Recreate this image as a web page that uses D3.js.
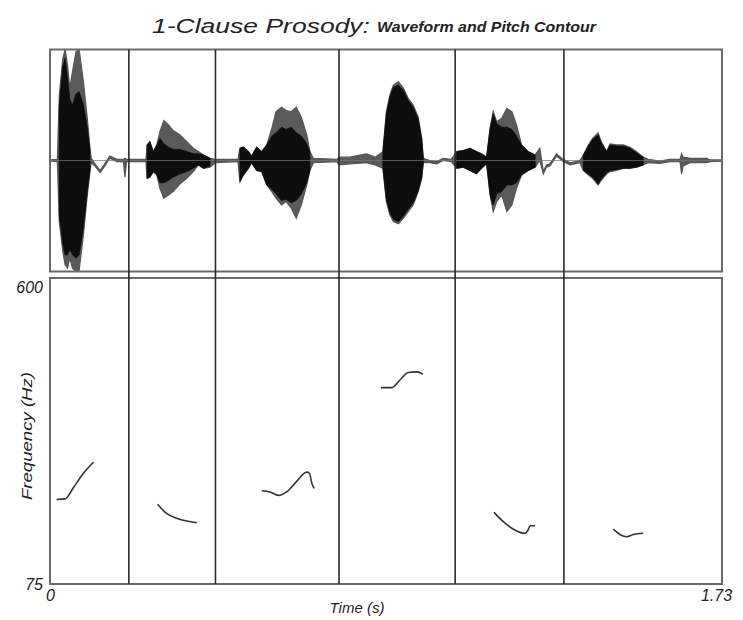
<!DOCTYPE html>
<html>
<head>
<meta charset="utf-8">
<script src="https://cdn.jsdelivr.net/npm/d3@7"></script>
<style>
  body { margin: 0; background: #fff; }
  text { font-family: "Liberation Sans", Arial, sans-serif; fill: #222; }
</style>
</head>
<body>
<div id="chart"></div>
<script>
// Data
// segment boundaries (s)
var boundaries = [0.203, 0.426, 0.744, 1.043, 1.323];

// waveform envelope (outer, gray) : time (s), upper, lower amplitude
var waveTime = [0, 0.019, 0.024, 0.033, 0.039, 0.045, 0.051, 0.058, 0.067, 0.075, 0.086, 0.096, 0.103, 0.106,
  0.116, 0.129, 0.139, 0.154, 0.172, 0.189, 0.193, 0.197, 0.247,
  0.250, 0.257, 0.266, 0.275, 0.283, 0.293, 0.305, 0.317, 0.335, 0.352, 0.369, 0.382, 0.395, 0.412, 0.425, 0.484,
  0.489, 0.498, 0.511, 0.519, 0.532, 0.545, 0.558, 0.571, 0.582, 0.596, 0.608, 0.621, 0.634, 0.647, 0.661, 0.669, 0.678, 0.739,
  0.744, 0.772, 0.815, 0.837, 0.857,
  0.866, 0.875, 0.884, 0.897, 0.910, 0.922, 0.935, 0.948, 0.957, 0.961,
  0.978, 0.996, 1.012, 1.033,
  1.047, 1.064, 1.081, 1.098, 1.111, 1.124, 1.133, 1.141, 1.150, 1.163, 1.176, 1.189, 1.201, 1.214, 1.231, 1.249,
  1.261, 1.270, 1.278, 1.287, 1.304, 1.321, 1.339, 1.364,
  1.373, 1.386, 1.397, 1.411, 1.419, 1.433, 1.442, 1.459, 1.476, 1.493, 1.510, 1.527, 1.540,
  1.570, 1.596, 1.622, 1.626, 1.630, 1.648, 1.691, 1.699, 1.727];
var waveHigh = [0.005, 0.01, 0.59, 0.92, 1.0, 0.86, 0.65, 0.80, 0.98, 1.0, 0.71, 0.38, 0.11, 0.02,
  -0.03, -0.09, -0.04, 0.04, 0.01, 0.01, 0.02, 0.01, 0.01,
  0.14, 0.17, 0.08, 0.14, 0.26, 0.36, 0.32, 0.27, 0.23, 0.17, 0.11, 0.08, 0.05, 0.02, 0.01, 0.01,
  0.11, 0.12, 0.08, 0.04, 0.12, 0.08, 0.14, 0.29, 0.44, 0.48, 0.45, 0.44, 0.48, 0.39, 0.23, 0.08, 0.02, 0.01,
  0.03, 0.03, 0.06, 0.03, 0.08,
  0.44, 0.59, 0.68, 0.71, 0.65, 0.56, 0.50, 0.39, 0.20, 0.02,
  0.0, -0.01, 0.02, 0.01,
  0.08, 0.09, 0.11, 0.08, 0.06, 0.03, 0.29, 0.44, 0.35, 0.38, 0.47, 0.44, 0.32, 0.14, 0.08, 0.05,
  0.11, -0.10, -0.04, -0.03, 0.06, 0.01, -0.02, 0.0,
  0.05, 0.14, 0.20, 0.25, 0.17, 0.08, 0.15, 0.14, 0.14, 0.12, 0.08, 0.03, 0.01,
  -0.005, 0.01, 0.01, 0.06, 0.03, 0.02, 0.02, 0.005, 0.005];
var waveLow = [-0.005, -0.01, -0.55, -0.82, -0.94, -0.97, -0.88, -0.97, -1.0, -0.99, -0.67, -0.31, -0.10, -0.02,
  -0.05, -0.11, -0.06, 0.02, -0.01, -0.01, -0.15, -0.01, -0.01,
  -0.16, -0.15, -0.10, -0.13, -0.25, -0.34, -0.31, -0.28, -0.21, -0.16, -0.10, -0.04, -0.07, -0.06, -0.02, -0.01,
  -0.19, -0.13, -0.07, -0.02, -0.09, -0.10, -0.22, -0.28, -0.34, -0.40, -0.37, -0.43, -0.52, -0.40, -0.22, -0.09, -0.02, -0.01,
  -0.04, -0.03, -0.02, -0.04, -0.07,
  -0.37, -0.49, -0.55, -0.57, -0.52, -0.46, -0.40, -0.28, -0.16, -0.02,
  -0.02, -0.03, 0.0, -0.01,
  -0.07, -0.06, -0.09, -0.12, -0.07, -0.03, -0.31, -0.46, -0.37, -0.31, -0.46, -0.40, -0.25, -0.13, -0.09, -0.06,
  0.0, -0.12, -0.06, -0.05, 0.04, -0.01, -0.04, -0.02,
  -0.09, -0.13, -0.16, -0.22, -0.18, -0.12, -0.10, -0.09, -0.07, -0.07, -0.06, -0.04, -0.02,
  -0.025, -0.01, -0.01, -0.12, -0.05, -0.02, -0.02, -0.01, -0.005];

// dark core of each burst : time (s), upper, lower amplitude
var coreTime = [
  [0.024, 0.033, 0.039, 0.045, 0.051, 0.058, 0.067, 0.075, 0.086, 0.096, 0.103],
  [0.250, 0.257, 0.266, 0.275, 0.283, 0.293, 0.305, 0.317, 0.335, 0.352, 0.369, 0.382, 0.395, 0.412],
  [0.489, 0.498, 0.511, 0.519, 0.532, 0.545, 0.558, 0.571, 0.582, 0.596, 0.608, 0.621, 0.634, 0.647, 0.661, 0.669],
  [0.857, 0.866, 0.875, 0.884, 0.897, 0.910, 0.922, 0.935, 0.948, 0.957, 0.961],
  [1.047, 1.064, 1.081, 1.098, 1.111, 1.124, 1.133, 1.141, 1.150, 1.163, 1.176, 1.189, 1.201, 1.214, 1.231, 1.249],
  [1.373, 1.386, 1.397, 1.411, 1.419, 1.433, 1.442, 1.459, 1.476, 1.493, 1.510, 1.527]
];
var coreHigh = [
  [0.5, 0.85, 0.92, 0.75, 0.55, 0.5, 0.6, 0.62, 0.5, 0.3, 0.08],
  [0.14, 0.17, 0.08, 0.14, 0.2, 0.15, 0.12, 0.1, 0.1, 0.08, 0.06, 0.06, 0.05, 0.02],
  [0.11, 0.12, 0.08, 0.04, 0.12, 0.08, 0.14, 0.22, 0.25, 0.3, 0.28, 0.3, 0.25, 0.22, 0.15, 0.08],
  [0.08, 0.42, 0.57, 0.66, 0.68, 0.63, 0.54, 0.48, 0.37, 0.19, 0.02],
  [0.08, 0.09, 0.11, 0.08, 0.06, 0.03, 0.29, 0.42, 0.33, 0.3, 0.3, 0.28, 0.22, 0.14, 0.08, 0.05],
  [0.05, 0.13, 0.19, 0.23, 0.16, 0.08, 0.14, 0.13, 0.13, 0.11, 0.07, 0.03]
];
var coreLow = [
  [-0.5, -0.75, -0.85, -0.85, -0.8, -0.85, -0.88, -0.85, -0.6, -0.28, -0.08],
  [-0.16, -0.15, -0.1, -0.13, -0.2, -0.2, -0.18, -0.15, -0.12, -0.1, -0.07, -0.04, -0.07, -0.05],
  [-0.19, -0.13, -0.07, -0.02, -0.09, -0.1, -0.22, -0.26, -0.3, -0.36, -0.35, -0.38, -0.36, -0.3, -0.2, -0.09],
  [-0.07, -0.35, -0.47, -0.53, -0.55, -0.5, -0.44, -0.38, -0.27, -0.15, -0.02],
  [-0.07, -0.06, -0.09, -0.12, -0.07, -0.03, -0.31, -0.4, -0.3, -0.28, -0.22, -0.22, -0.2, -0.13, -0.09, -0.06],
  [-0.09, -0.12, -0.15, -0.21, -0.17, -0.11, -0.09, -0.08, -0.07, -0.07, -0.06, -0.04]
];

// pitch contours, one per segment : time (s), frequency (Hz)
var pitchTime = [
  [0.017, 0.039, 0.060, 0.086, 0.112],
  [0.277, 0.300, 0.326, 0.352, 0.378],
  [0.545, 0.566, 0.588, 0.609, 0.635, 0.661, 0.668, 0.674, 0.680],
  [0.852, 0.880, 0.901, 0.922, 0.944, 0.960],
  [1.143, 1.167, 1.193, 1.223, 1.231, 1.236, 1.249],
  [1.450, 1.467, 1.485, 1.502, 1.527]
];
var pitchHz = [
  [220, 221, 240, 265, 284],
  [212, 196, 188, 183, 180],
  [235, 233, 227, 233, 251, 267, 265, 248, 239],
  [412, 412, 425, 438, 439, 435],
  [198, 182, 169, 162, 168, 175, 175],
  [169, 160, 156, 160, 162]
];

var timeTicks = [0, 1.73];
var freqTicks = [75, 600];

// Setup Chart Params
var svgWidth = 743, svgHeight = 620;
var left = 50, right = 722;
var waveTop = 49.5, waveBottom = 271.5;
var pitchTop = 278, pitchBottom = 584;

var svg = d3.select("#chart")
  .append("svg")
  .attr("width", svgWidth)
  .attr("height", svgHeight);

// scales
var xScale = d3.scaleLinear().domain([0, 1.73]).range([left, right]);
var yWave = d3.scaleLinear().domain([-1, 1]).range([waveBottom, waveTop]);
var yPitch = d3.scaleLinear().domain([75, 600]).range([pitchBottom, pitchTop]);

// Title
svg.append("text")
  .attr("x", 152).attr("y", 33)
  .attr("textLength", 218).attr("lengthAdjust", "spacingAndGlyphs")
  .style("font-size", "20px").style("font-style", "italic")
  .text("1-Clause Prosody:");
svg.append("text")
  .attr("x", 377).attr("y", 32)
  .attr("textLength", 219).attr("lengthAdjust", "spacingAndGlyphs")
  .style("font-size", "14px").style("font-style", "italic").style("font-weight", "bold")
  .text("Waveform and Pitch Contour");

// Waveform
var waveData = waveTime.map(function(t, i) {
  return { t: t, hi: waveHigh[i], lo: waveLow[i] };
});
var area = d3.area()
  .x(d => xScale(d.t))
  .y0(d => yWave(d.lo))
  .y1(d => yWave(d.hi));

svg.append("path")
  .datum(waveData)
  .attr("d", area)
  .attr("fill", "#5a5a5a")
  .attr("stroke", "#555")
  .attr("stroke-width", 1.2);

coreTime.forEach(function(ts, k) {
  var core = ts.map(function(t, i) { return { t: t, hi: coreHigh[k][i], lo: coreLow[k][i] }; });
  svg.append("path")
    .datum(core)
    .attr("d", area)
    .attr("fill", "#0d0d0d")
    .attr("stroke", "#0d0d0d")
    .attr("stroke-width", 0.8);
});

// zero line
svg.append("line")
  .attr("x1", left).attr("x2", right)
  .attr("y1", yWave(0)).attr("y2", yWave(0))
  .attr("stroke", "#777").attr("stroke-width", 1).attr("opacity", 0.7);

// Panel frames
svg.append("rect")
  .attr("x", left).attr("y", waveTop)
  .attr("width", right - left).attr("height", waveBottom - waveTop)
  .attr("fill", "none").attr("stroke", "#6a6a6a").attr("stroke-width", 2);
svg.append("rect")
  .attr("x", left).attr("y", pitchTop)
  .attr("width", right - left).attr("height", pitchBottom - pitchTop)
  .attr("fill", "none").attr("stroke", "#6a6a6a").attr("stroke-width", 2);

// segment boundaries
svg.append("g").selectAll("line")
  .data(boundaries)
  .enter()
  .append("line")
  .attr("x1", d => xScale(d)).attr("x2", d => xScale(d))
  .attr("y1", waveTop).attr("y2", pitchBottom)
  .attr("stroke", "#2a2a2a")
  .attr("stroke-width", 1.6);

// Pitch contours
var pitchLine = d3.line()
  .x(d => xScale(d[0]))
  .y(d => yPitch(d[1]))
  .curve(d3.curveMonotoneX);

svg.append("g").selectAll("path")
  .data(pitchTime.map((ts, k) => ts.map((t, i) => [t, pitchHz[k][i]])))
  .enter()
  .append("path")
  .attr("d", d => pitchLine(d))
  .attr("fill", "none")
  .attr("stroke", "#333")
  .attr("stroke-width", 1.6);

// Axes
var leftAxis = d3.axisLeft(yPitch).tickValues(freqTicks).tickSize(0).tickPadding(7).tickFormat(d3.format("d"));
var gLeft = svg.append("g")
  .attr("transform", `translate(${left}, 0)`)
  .call(leftAxis);
gLeft.select(".domain").remove();
gLeft.selectAll("text")
  .style("font-family", "Liberation Sans, Arial, sans-serif")
  .style("font-size", "16px").style("font-style", "italic").attr("fill", "#222")
  .attr("dy", d => d === 600 ? "0.9em" : "0.35em");

var bottomAxis = d3.axisBottom(xScale).tickValues(timeTicks).tickSize(0).tickPadding(6)
  .tickFormat(d => d === 0 ? "0" : d3.format(".2f")(d));
var gBottom = svg.append("g")
  .attr("transform", `translate(0, ${pitchBottom})`)
  .call(bottomAxis);
gBottom.select(".domain").remove();
gBottom.selectAll("text")
  .style("font-family", "Liberation Sans, Arial, sans-serif")
  .style("font-size", "16px").style("font-style", "italic").attr("fill", "#222")
  .attr("text-anchor", d => d === 0 ? "middle" : "end")
  .attr("dx", d => d === 0 ? "0" : "0.6em");

// axes labels
svg.append("text")
  .attr("transform", `translate(32, ${(pitchTop + pitchBottom) / 2 + 5}) rotate(-90)`)
  .attr("text-anchor", "middle")
  .attr("textLength", 128).attr("lengthAdjust", "spacingAndGlyphs")
  .style("font-size", "15px").style("font-style", "italic")
  .text("Frequency (Hz)");

svg.append("text")
  .attr("x", 357).attr("y", 613)
  .attr("text-anchor", "middle")
  .style("font-size", "15px").style("font-style", "italic")
  .text("Time (s)");
</script>
</body>
</html>
